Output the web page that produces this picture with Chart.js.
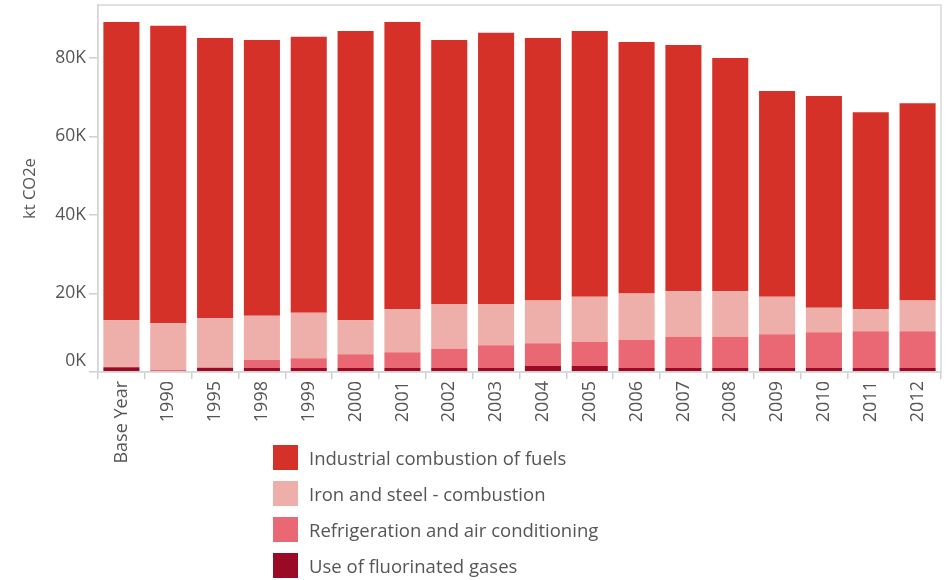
<!DOCTYPE html>
<html><head><meta charset="utf-8">
<script src="https://cdn.jsdelivr.net/npm/chart.js@4/dist/chart.umd.min.js"></script>
<style>
html,body{margin:0;padding:0;background:#fff;}
#wrap{position:relative;width:947px;height:580px;}
#legend{position:absolute;left:273px;top:445px;font-family:"Open Sans",sans-serif;font-size:18.5px;color:#555;}
.li{display:flex;align-items:center;height:25px;margin-bottom:11px;white-space:nowrap;}
.sw{width:25px;height:25px;margin-right:11px;flex:none;}
</style></head>
<body><div id="wrap"><canvas id="c" width="947" height="580"></canvas><div id="legend"></div></div>
<script>
const categories = ["Base Year","1990","1995","1998","1999","2000","2001","2002","2003","2004","2005","2006","2007","2008","2009","2010","2011","2012"];
const seriesNames = ["Industrial combustion of fuels","Iron and steel - combustion","Refrigeration and air conditioning","Use of fluorinated gases"];
const industrial = [76.0,75.8,71.4,70.3,70.3,73.7,73.2,67.3,69.1,66.9,67.7,64.1,62.7,59.4,52.4,53.9,50.2,50.3].map(v=>v*1000);
const ironSteel  = [12.0,11.9,12.6,11.2,11.6,8.7,11.0,11.4,10.5,10.9,11.5,11.8,11.6,11.6,9.6,6.3,5.6,7.8].map(v=>v*1000);
const refrig     = [0,0.5,0,2.0,2.5,3.5,4.0,4.9,5.8,5.8,6.2,7.2,8.0,8.0,8.6,9.1,9.4,9.4].map(v=>v*1000);
const fluor      = [1.2,0,1.1,1.1,1.0,1.0,1.0,1.0,1.0,1.5,1.5,1.0,1.0,1.0,1.0,1.0,1.0,1.0].map(v=>v*1000);
const yTicks = [0,20000,40000,60000,80000];
const colors = ["#D63129","#EEAEA9","#EA6873","#9A0A24"];

const FONT = '"Open Sans", sans-serif';
const boxPlugin = {
  id:'box',
  afterDatasetsDraw(chart){
    const a = chart.chartArea, ctx = chart.ctx;
    ctx.save(); ctx.strokeStyle='#d9d9d9'; ctx.lineWidth=1.5;
    ctx.strokeRect(a.left, a.top, a.right-a.left, a.bottom-a.top);
    ctx.restore();
  }
};
const chart = new Chart(document.getElementById('c'), {
  type:'bar',
  data:{
    labels:categories,
    datasets:[
      {label:seriesNames[3],data:fluor,backgroundColor:colors[3]},
      {label:seriesNames[2],data:refrig,backgroundColor:colors[2]},
      {label:seriesNames[1],data:ironSteel,backgroundColor:colors[1]},
      {label:seriesNames[0],data:industrial,backgroundColor:colors[0]}
    ]
  },
  options:{
    responsive:false, animation:false,
    layout:{padding:{top:5,right:6,left:0,bottom:0}},
    plugins:{legend:{display:false},tooltip:{enabled:false}},
    datasets:{bar:{categoryPercentage:1,barPercentage:0.77,borderWidth:0}},
    scales:{
      x:{stacked:true,
        grid:{drawOnChartArea:false,offset:true,tickLength:7,color:'#d0d0d0',lineWidth:1.5},
        border:{display:true,color:'#d0d0d0',width:1.5},
        ticks:{minRotation:90,maxRotation:90,autoSkip:false,color:'#555',font:{family:FONT,size:18},padding:2},
        afterFit(s){s.height=208;s.paddingLeft=0;s.paddingRight=0;}
      },
      y:{stacked:true,min:0,max:93500,
        afterBuildTicks(s){s.ticks=yTicks.map(v=>({value:v}));},
        grid:{drawOnChartArea:false,tickLength:9,color:'#d0d0d0',lineWidth:1.5},
        border:{display:true,color:'#d0d0d0',width:1.5},
        ticks:{color:'#555',font:{family:FONT,size:17.5},padding:3,
          callback:v=> v===0 ? ['0K',''] : (v/1000)+'K'},
        title:{display:true,text:'kt CO2e',color:'#555',font:{family:FONT,size:16.5},padding:{top:20,bottom:0}},
        afterFit(s){s.width=98;s.paddingTop=0;s.paddingBottom=0;}
      }
    }
  },
  plugins:[boxPlugin]
});
const lg=document.getElementById('legend');
seriesNames.forEach((n,i)=>{
  const d=document.createElement('div');d.className='li';
  d.innerHTML='<div class="sw" style="background:'+colors[i]+'"></div><span>'+n+'</span>';
  lg.appendChild(d);
});
</script></body></html>
